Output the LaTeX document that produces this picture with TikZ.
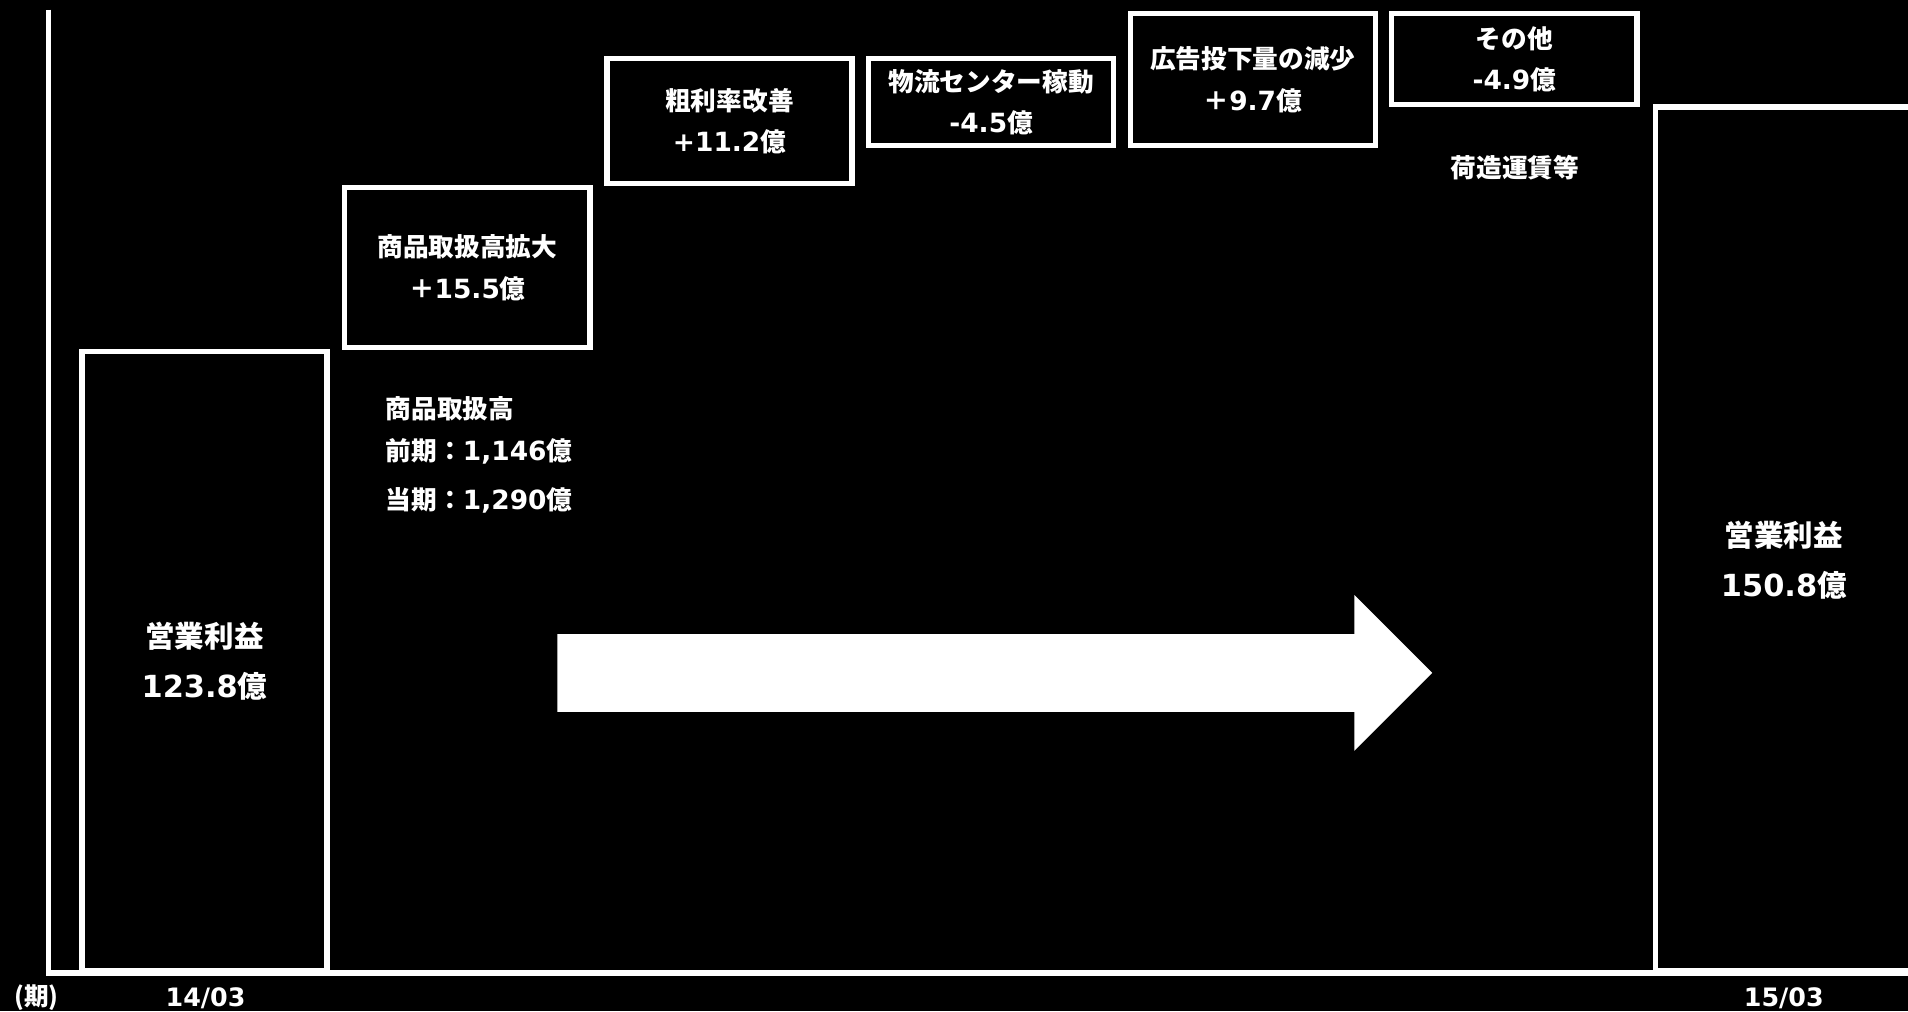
\documentclass[tikz,border=0pt]{standalone}
\usepackage{fontspec}
\setmainfont{Noto Sans CJK JP}
\newfontfamily\lat{DejaVu Sans}[Scale=1.03]
\begin{document}
\begin{tikzpicture}[x=0.01cm,y=-0.01cm,color=white,line width=1.5pt,
  stepbox/.style={draw, rectangle, inner sep=0pt, minimum width=2.45cm, align=center, font=\bfseries\fontsize{7.3}{11.7}\selectfont},
  bar/.style={draw, rectangle, inner sep=0pt, minimum width=2.45cm, align=center, font=\bfseries\fontsize{8.4}{14.2}\selectfont},
  note/.style={inner sep=0pt, font=\bfseries\fontsize{7.3}{9}\selectfont},
  tick/.style={inner sep=0pt, font=\bfseries\fontsize{7}{9}\selectfont}]
\clip (0,0) rectangle (1908,1011);
\fill[black] (0,0) rectangle (1908,1011);
% bars
\node (start) [bar, minimum height=6.18cm] at (204.5,661) {営業利益\\{\lat 123.8}億};
\node (end) [bar, minimum width=2.57cm, minimum height=8.63cm] at (1783.8,538.8) {};
\node (endval) [bar, draw=none] at (1783.8,560) {営業利益\\{\lat 150.8}億};
% steps
\node (gmv) [stepbox, minimum height=1.60cm] at (467.3,267.7) {商品取扱高拡大\\＋{\lat 15.5}億};
\node (margin) [stepbox, minimum height=1.25cm] at (729.5,121.1) {粗利率改善\\{\lat +11.2}億};
\node (center) [stepbox, minimum height=0.87cm] at (991.1,102.2) {物流センター稼動\\{\lat -4.5}億};
\node (ads) [stepbox, minimum height=1.32cm] at (1252.7,79.7) {広告投下量の減少\\＋{\lat 9.7}億};
\node (other) [stepbox, minimum height=0.905cm] at (1514.3,59) {その他\\{\lat -4.9}億};
\node (otherdet) [note] at (1515,168) {荷造運賃等};
\node (gmvhead) [note, anchor=west] at (383.3,408.8) {商品取扱高};
\node (gmvprev) [note, anchor=west] at (383.3,451.4) {前期：{\lat 1,146}億};
\node (gmvcurr) [note, anchor=west] at (383.3,500.1) {当期：{\lat 1,290}億};
% axes
\coordinate (top) at (48.7,9.7);
\coordinate (origin) at (48.7,973);
\coordinate (right) at (1920,973);
\draw (top) -- (origin) -- (right);
\node (unit) [tick] at (36.5,997.8) {(期)};
\node (prev) [tick] at (205.6,997.8) {\lat 14/03};
\node (curr) [tick] at (1783.8,997.8) {\lat 15/03};
% arrow
\fill (557.3,634) -- (1354.3,634) -- (1354.3,595) -- (1432.2,672.9)
  -- (1354.3,750.8) -- (1354.3,711.8) -- (557.3,711.8) -- cycle;
\end{tikzpicture}
\end{document}
